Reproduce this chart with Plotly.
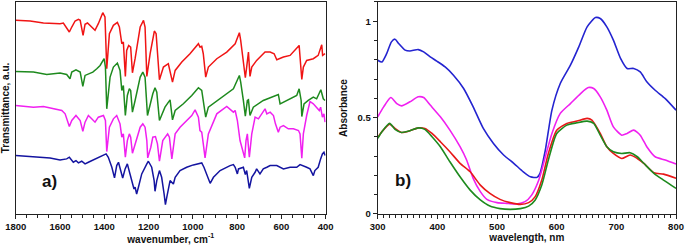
import plotly.graph_objects as go

# ---------------- panel a) IR spectra (transmittance, a.u., offset) -----------------
red_wn = [1800,1735,1675,1600,1585,1570,1558,1547,1532,1517,1509,1496,1487,1476,1457,1442,1427,1407,1397,1389,
          1377,1359,1341,1332,1321,1314,1305,1299,1290,1281,1273,1261,1238,1223,1216,1208,1193,1181,1174,1166,
          1160,1151,1133,1111,1092,1080,1050,1013,975,968,960,953,942,930,892,847,809,790,784,772,763,757,749,
          742,734,712,674,651,633,621,591,561,523,520,516,508,501,486,456,434,418,414,403]
red_t = [58.0,57.8,57.2,57.0,57.2,55.8,54.5,56.0,57.8,58.3,58.0,53.5,56.8,57.2,56.0,55.0,57.0,60.3,59.0,43.5,
         54.0,56.5,57.4,56.0,51.0,51.5,41.2,49.0,50.5,50.0,42.3,46.5,56.0,58.0,56.0,41.2,48.0,52.0,54.8,54.0,
         48.0,40.2,44.0,45.0,39.5,43.0,45.5,48.0,51.0,50.0,50.2,48.0,41.0,44.0,46.5,48.5,51.0,54.3,52.0,46.0,
         40.8,44.0,48.5,41.2,44.0,46.0,48.5,48.5,48.0,46.2,47.0,47.5,50.0,50.5,47.0,40.3,44.0,46.0,46.5,47.5,
         50.7,47.5,48.0]

green_wn = [1800,1720,1660,1600,1570,1555,1547,1528,1509,1497,1487,1472,1452,1434,1419,1401,1395,1389,1374,1359,
            1341,1329,1321,1314,1305,1296,1287,1281,1273,1261,1238,1226,1216,1205,1193,1181,1171,1163,1151,1126,
            1103,1092,1080,1043,1005,975,960,950,942,930,877,817,790,784,772,763,754,749,742,727,682,621,614,
            606,576,531,520,511,508,498,479,456,441,422,411,403]
green_t = [42.7,42.5,41.8,42.2,41.8,40.5,42.5,43.2,42.5,38.2,41.5,42.0,42.5,43.5,44.5,46.5,44.0,31.5,41.0,44.0,
           45.2,43.0,37.0,38.5,29.5,35.5,37.5,37.0,30.5,34.0,41.0,42.5,41.0,29.5,33.0,36.0,37.8,36.5,28.0,32.0,
           34.2,28.2,31.0,33.0,35.5,37.8,37.0,33.0,29.0,32.0,34.5,37.5,41.5,39.5,34.0,29.3,34.0,34.2,29.5,32.0,
           34.0,35.5,35.8,33.0,34.0,35.5,37.5,34.0,29.2,33.0,34.0,35.0,34.5,37.2,34.5,34.0]

magenta_wn = [1800,1765,1720,1675,1630,1592,1577,1558,1547,1528,1509,1497,1487,1472,1457,1442,1427,1404,1395,1389,
              1377,1359,1344,1329,1321,1314,1305,1296,1287,1281,1273,1261,1238,1226,1216,1208,1204,1190,1181,1169,
              1160,1151,1136,1114,1106,1095,1080,1058,1028,1005,990,975,968,960,953,945,930,892,847,817,809,799,
              787,775,766,760,754,745,734,719,704,674,666,651,636,627,614,606,591,569,546,523,516,508,501,486,
              471,456,441,429,423,415,408,403]
magenta_t = [32.5,32.2,32.0,32.2,31.5,31.0,30.0,26.2,28.0,29.5,28.0,24.8,27.5,29.5,28.5,27.5,29.0,29.5,28.0,18.7,
             26.0,28.5,29.5,27.0,23.0,24.0,17.0,22.0,24.0,23.0,18.2,21.0,26.0,27.0,26.0,22.0,16.8,20.0,23.0,23.2,
             21.0,15.8,22.0,24.0,23.0,16.5,24.0,26.0,28.0,29.5,31.2,29.0,25.0,24.5,21.0,16.8,24.0,30.0,32.2,30.5,
             31.0,28.0,22.0,19.0,16.8,22.0,24.0,17.0,24.0,29.0,28.5,31.5,30.0,30.5,29.5,27.0,24.5,26.0,26.5,25.5,
             25.5,25.0,24.0,16.7,24.0,29.5,33.7,33.0,32.0,31.0,32.0,29.0,30.0,27.5]

blue_wn = [1800,1720,1645,1600,1570,1558,1540,1528,1517,1502,1487,1472,1449,1419,1392,1382,1366,1354,1344,1336,
           1326,1317,1306,1296,1284,1266,1261,1254,1246,1231,1208,1201,1186,1175,1171,1163,1151,1141,1130,1124,
           1118,1103,1088,1080,1058,1028,998,960,950,937,922,907,877,832,817,809,799,794,772,763,757,745,734,
           719,712,697,682,666,651,621,591,561,531,516,501,486,471,456,449,434,423,415,408,403]
blue_t = [17.5,17.2,16.8,16.2,16.5,17.0,15.5,16.0,15.3,15.8,15.0,15.5,16.2,17.0,18.0,17.0,14.0,10.8,14.5,15.5,
          13.0,10.8,13.5,15.0,12.0,7.5,8.0,6.0,8.0,12.0,15.0,15.8,14.0,10.0,6.8,10.0,13.0,11.0,6.0,2.8,
          5.0,10.0,9.0,11.0,13.0,14.0,14.7,15.3,14.0,12.0,9.2,11.0,13.0,14.5,14.8,14.0,12.0,13.5,14.0,11.8,
          13.0,7.7,11.0,12.5,13.5,12.0,13.5,14.0,14.5,14.5,13.5,14.0,14.0,14.8,14.5,14.0,13.5,11.5,13.0,14.0,
          16.5,18.0,18.5,17.5]

wn_ticks = [1800, 1600, 1400, 1200, 1000, 800, 600, 400]

# ---------------- panel b) UV-vis absorbance -----------------
blue_wl = [300,307,315,323,329,335,346,354,368,377,388,399,413,427,444,460,477,494,511,528,544,556,567,572,581,
           592,606,623,637,651,665,673,684,695,707,718,729,740,751,765,782,800]
blue_a = [0.798,0.789,0.832,0.893,0.907,0.885,0.850,0.846,0.853,0.841,0.815,0.793,0.763,0.720,0.651,0.556,0.444,
          0.366,0.306,0.263,0.219,0.193,0.190,0.211,0.332,0.539,0.677,0.772,0.867,0.971,1.019,1.014,0.971,0.902,
          0.807,0.755,0.755,0.737,0.686,0.642,0.599,0.539]

magenta_wl = [300,310,322,332,340,354,368,377,388,405,421,438,449,460,472,483,500,516,533,547,558,570,581,592,606,
              623,640,653,662,673,684,695,709,718,729,740,751,765,782,800]
magenta_a = [0.504,0.556,0.604,0.573,0.561,0.582,0.608,0.604,0.565,0.504,0.435,0.349,0.280,0.185,0.116,0.076,0.059,
             0.055,0.052,0.064,0.098,0.176,0.297,0.418,0.522,0.573,0.625,0.656,0.651,0.608,0.539,0.452,0.409,0.418,
             0.435,0.409,0.349,0.297,0.280,0.259]

red_wl = [300,307,320,329,340,354,368,379,391,405,421,438,455,472,488,505,522,539,553,564,575,586,600,617,634,651,
          659,673,684,695,709,723,735,746,763,779,800]
red_a = [0.397,0.427,0.466,0.444,0.423,0.432,0.447,0.444,0.418,0.375,0.323,0.263,0.219,0.150,0.107,0.076,0.059,
         0.050,0.059,0.090,0.176,0.314,0.435,0.470,0.482,0.496,0.487,0.418,0.349,0.314,0.288,0.306,0.288,0.263,
         0.214,0.207,0.185]

green_wl = [300,307,320,329,340,354,368,379,391,405,421,438,455,472,488,505,522,539,553,564,575,586,600,617,634,651,
            662,673,684,695,709,723,735,746,763,779,800]
green_a = [0.392,0.427,0.470,0.439,0.423,0.432,0.447,0.439,0.401,0.349,0.271,0.193,0.124,0.073,0.041,0.028,0.024,
           0.028,0.041,0.073,0.150,0.280,0.418,0.461,0.473,0.482,0.470,0.409,0.349,0.323,0.314,0.318,0.297,0.263,
           0.211,0.176,0.133]

abs_tickvals = [0, 0.5, 1]
abs_ticktext = ["0", "0.5", "1"]

# ---------------- figure -----------------
FONT = "Arial, Liberation Sans, sans-serif"
fig = go.Figure()

for wn, t, col in [(red_wn, red_t, "#f01414"), (green_wn, green_t, "#1e8a1e"),
                   (magenta_wn, magenta_t, "#f020f0"), (blue_wn, blue_t, "#1414a0")]:
    fig.add_trace(go.Scatter(x=wn, y=t, mode="lines", line=dict(color=col, width=1.5),
                             xaxis="x", yaxis="y", showlegend=False, hoverinfo="skip"))

for wl, a, col in [(blue_wl, blue_a, "#2424d0"), (magenta_wl, magenta_a, "#f020f0"),
                   (red_wl, red_a, "#e81818"), (green_wl, green_a, "#1e8a1e")]:
    fig.add_trace(go.Scatter(x=wl, y=a, mode="lines", line=dict(color=col, width=1.6, shape="spline", smoothing=0.6),
                             xaxis="x2", yaxis="y2", showlegend=False, hoverinfo="skip"))

axis_common = dict(showline=True, linecolor="#222", linewidth=1, mirror=True, showgrid=False, zeroline=False,
                   tickfont=dict(family=FONT, size=9.5, color="#111", weight="bold"))
title_font = dict(family=FONT, size=10, color="#111", weight="bold")

fig.update_layout(
    width=685, height=247,
    margin=dict(l=0, r=0, t=0, b=0, autoexpand=False),
    paper_bgcolor="white", plot_bgcolor="white",
    xaxis=dict(domain=[0.023, 0.4755], range=[1800, 400], tickvals=wn_ticks,
               ticks="outside", ticklen=4, tickcolor="#222",
               minor=dict(dtick=50, ticks="outside", ticklen=3, tickcolor="#222"),
               title=dict(text="wavenumber, cm<sup>-1</sup>", standoff=1, font=title_font),
               anchor="y", **axis_common),
    yaxis=dict(domain=[0.1336, 0.992], range=[0, 63.5], showticklabels=False, ticks="",
               title=dict(text="Transmittance, a.u.", standoff=3, font=title_font),
               anchor="x", **axis_common),
    xaxis2=dict(domain=[0.5514, 0.9869], range=[300, 800], dtick=100, tick0=300,
                ticks="outside", ticklen=4, tickcolor="#222",
                minor=dict(dtick=10, ticks="outside", ticklen=3, tickcolor="#222"),
                title=dict(text="wavelength, nm", standoff=1, font=title_font),
                anchor="y2", **axis_common),
    yaxis2=dict(domain=[0.1336, 0.992], range=[0, 1.1], tickvals=abs_tickvals, ticktext=abs_ticktext,
                ticks="outside", ticklen=4, tickcolor="#222",
                minor=dict(dtick=0.1, ticks="outside", ticklen=3, tickcolor="#222"),
                title=dict(text="Absorbance", standoff=8, font=title_font),
                anchor="x2", **axis_common),
    annotations=[
        dict(text="a)", x=0.059, y=0.219, xref="paper", yref="paper", showarrow=False,
             font=dict(family=FONT, size=17, color="#111", weight="bold")),
        dict(text="b)", x=0.588, y=0.223, xref="paper", yref="paper", showarrow=False,
             font=dict(family=FONT, size=17, color="#111", weight="bold")),
    ],
)

fig.write_html("out.html", config={"displayModeBar": False},
               post_script="document.body.style.margin='0';document.body.style.overflow='hidden';")
